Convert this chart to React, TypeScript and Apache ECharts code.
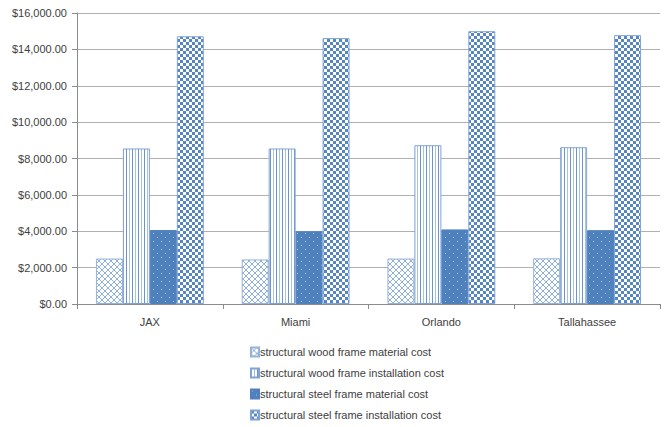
import React, { useEffect, useRef } from "react";
import * as echarts from "echarts";

const cities = ["JAX", "Miami", "Orlando", "Tallahassee"];
const woodMaterial = [2500, 2450, 2500, 2510];
const woodInstallation = [8550, 8550, 8730, 8620];
const steelMaterial = [4070, 4000, 4100, 4060];
const steelInstallation = [14720, 14620, 15000, 14780];
const seriesNames = [
  "structural wood frame material cost",
  "structural wood frame installation cost",
  "structural steel frame material cost",
  "structural steel frame installation cost",
];

const BLUE = "#4f81bd";
const LIGHT = "#95b3d7";

function tile(w: number, h: number, draw: (c: CanvasRenderingContext2D) => void) {
  const cv = document.createElement("canvas");
  cv.width = w;
  cv.height = h;
  const ctx = cv.getContext("2d")!;
  draw(ctx);
  return { image: cv, repeat: "repeat" as const };
}

function makePatterns() {
  // diagonal trellis
  const cross = tile(6, 6, (c) => {
    c.fillStyle = "#fff";
    c.fillRect(0, 0, 6, 6);
    c.fillStyle = "#8fb0da";
    for (let i = 0; i < 6; i++) {
      c.fillRect(i, i, 1, 1);
      c.fillRect(5 - i, i, 1, 1);
    }
  });
  // vertical stripes
  const stripes = tile(6, 1, (c) => {
    c.fillStyle = "#fff";
    c.fillRect(0, 0, 6, 1);
    c.fillStyle = "#6a94cb";
    c.fillRect(0, 0, 1, 1);
    c.fillStyle = "#a9c2e3";
    c.fillRect(3, 0, 1, 1);
  });
  // solid with sparse dots
  const dots = tile(8, 8, (c) => {
    c.fillStyle = BLUE;
    c.fillRect(0, 0, 8, 8);
    c.fillStyle = "#a8c0e0";
    c.fillRect(1, 1, 1, 1);
    c.fillRect(5, 5, 1, 1);
  });
  // checkerboard
  const checker = tile(6, 6, (c) => {
    c.fillStyle = "#fff";
    c.fillRect(0, 0, 6, 6);
    c.fillStyle = "#5585c2";
    c.fillRect(0, 0, 3, 3);
    c.fillRect(3, 3, 3, 3);
  });
  return [cross, stripes, dots, checker];
}

export default function App() {
  const ref = useRef<HTMLDivElement>(null);
  useEffect(() => {
    if (!ref.current) return;
    const chart = echarts.init(ref.current, null, { renderer: "svg" });
    const pats = makePatterns();
    const borders = [LIGHT, "#7fa3d3", BLUE, "#7fa3d3"];
    const values = [woodMaterial, woodInstallation, steelMaterial, steelInstallation];
    const font = "'Liberation Sans', Arial, sans-serif";
    chart.setOption({
      animation: false,
      textStyle: { fontFamily: font },
      grid: { left: 77, right: 4, top: 13, bottom: 123, containLabel: false },
      legend: {
        orient: "vertical",
        left: 250,
        top: 346,
        padding: 0,
        itemWidth: 8,
        itemHeight: 9,
        itemGap: 9,
        icon: "rect",
        data: seriesNames,
        textStyle: { fontSize: 11, color: "#404040", fontFamily: font, lineHeight: 12, padding: [0, 0, 0, -4] },
      },
      xAxis: {
        type: "category",
        data: cities,
        axisLine: { lineStyle: { color: "#8c8c8c" } },
        axisTick: { show: true, length: 5, interval: 0, lineStyle: { color: "#8c8c8c" } },
        axisLabel: { fontSize: 11, color: "#404040", margin: 12, fontFamily: font },
      },
      yAxis: {
        type: "value",
        min: 0,
        max: 16000,
        interval: 2000,
        axisLine: { show: true, lineStyle: { color: "#8c8c8c" } },
        axisTick: { show: true, length: 5, lineStyle: { color: "#8c8c8c" } },
        splitLine: { lineStyle: { color: "#b0b0b0" } },
        axisLabel: {
          fontSize: 11,
          color: "#404040",
          margin: 10,
          fontFamily: font,
          formatter: (v: number) =>
            "$" + v.toLocaleString("en-US", { minimumFractionDigits: 2, maximumFractionDigits: 2 }),
        },
      },
      series: seriesNames.map((name, i) => ({
        name,
        type: "bar",
        data: values[i],
        barGap: "0%",
        barCategoryGap: "26%",
        itemStyle: { color: pats[i], borderColor: borders[i], borderWidth: 1 },
      })),
    });
    return () => chart.dispose();
  }, []);
  return (
    <div
      ref={ref}
      style={{ position: "absolute", left: 0, top: 0, width: 664, height: 427 }}
    />
  );
}
